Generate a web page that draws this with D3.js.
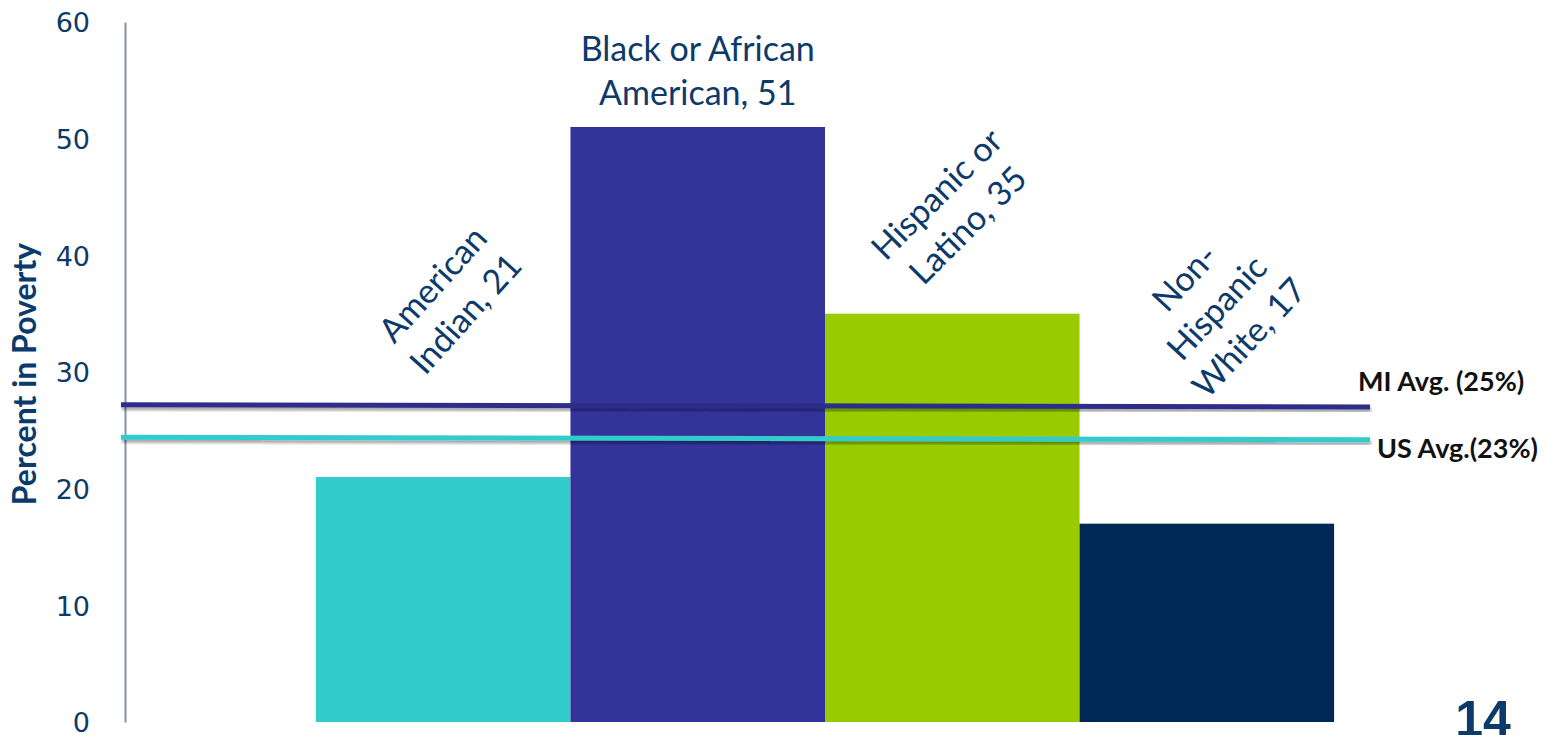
<!DOCTYPE html>
<html><head><meta charset="utf-8">
<script src="https://cdn.jsdelivr.net/npm/d3@7"></script>
<style>
html,body{margin:0;padding:0;background:#fff;}
svg{display:block;}
</style></head>
<body>
<svg id="c" width="1547" height="735"></svg>
<script>
// ---- data ----
const categories = ["American Indian", "Black or African American", "Hispanic or Latino", "Non-Hispanic White"];
const values = [21, 51, 35, 17];
const labelLines = [["American", "Indian, 21"], ["Black or African", "American, 51"], ["Hispanic or", "Latino, 35"], ["Non-", "Hispanic", "White, 17"]];
const barColors = ["#33cccc", "#333399", "#99cc00", "#002855"];
const yTicks = [0, 10, 20, 30, 40, 50, 60];
const avgNames = ["MI Avg. (25%)", "US Avg.(23%)"];
const avgLineStart = [27.2, 24.4];   // line level at the left end, as drawn
const avgLineEnd = [27.0, 24.2];     // line level at the right end, as drawn
const avgColors = ["#2e2e8a", "#33cccc"];
const pageNumber = "14";

// ---- layout ----
const svg = d3.select("#c");
const axisX = 125, x0 = 125, x1 = 1525, yTop = 22, yBottom = 722;
const navy = "#0b3a6b";

const x = d3.scaleBand().domain(categories).range([x0, x1]).paddingInner(0).paddingOuter(0.75);
const y = d3.scaleLinear().domain([0, 60]).range([yBottom, yTop]);

const defs = svg.append("defs");
const f = defs.append("filter").attr("id", "sh").attr("x", "-5%").attr("y", "-200%").attr("width", "110%").attr("height", "500%");
f.append("feGaussianBlur").attr("in", "SourceAlpha").attr("stdDeviation", 1.5).attr("result", "b");
f.append("feOffset").attr("in", "b").attr("dx", 1).attr("dy", 3).attr("result", "o");
f.append("feComponentTransfer").attr("in", "o").attr("result", "o2")
  .append("feFuncA").attr("type", "linear").attr("slope", 0.35);
const m = f.append("feMerge");
m.append("feMergeNode").attr("in", "o2");
m.append("feMergeNode").attr("in", "SourceGraphic");

// bars
svg.append("g").selectAll("rect").data(values).join("rect")
  .attr("x", (d, i) => x(categories[i]))
  .attr("y", d => y(d))
  .attr("width", x.bandwidth())
  .attr("height", d => y(0) - y(d))
  .attr("fill", (d, i) => barColors[i]);

// y axis
const yAxis = d3.axisLeft(y).tickValues(yTicks).tickSize(0).tickPadding(35);
const ga = svg.append("g").attr("transform", `translate(${axisX},0)`).call(yAxis);
ga.select(".domain").attr("stroke", "#8a8fa8").attr("stroke-width", 2);
ga.selectAll("text").attr("fill", navy).attr("font-family", "DejaVu Sans, Verdana, sans-serif")
  .attr("font-size", 27).attr("dy", "0.36em");

// axis title
svg.append("text").attr("transform", `translate(36,${374}) rotate(-90)`)
  .attr("text-anchor", "middle").attr("fill", navy)
  .attr("font-family", "Lato, sans-serif").attr("font-weight", "bold").attr("font-size", 32)
  .text("Percent in Poverty");

// avg lines
const lineEndX = 1370, lineStartX = 121;
svg.append("g").selectAll("line").data(avgNames).join("line")
  .attr("x1", lineStartX).attr("x2", lineEndX)
  .attr("y1", (d, i) => y(avgLineStart[i])).attr("y2", (d, i) => y(avgLineEnd[i]))
  .attr("stroke", (d, i) => avgColors[i]).attr("stroke-width", 5)
  .attr("filter", "url(#sh)");

// avg labels
const avgLabelPos = [[1358, -25], [1377, 9]];
svg.append("g").selectAll("text").data(avgNames).join("text")
  .attr("x", (d, i) => avgLabelPos[i][0])
  .attr("y", (d, i) => y(avgLineEnd[i]) + avgLabelPos[i][1])
  .attr("dy", "0.35em")
  .attr("fill", "#111").attr("font-family", "Lato, sans-serif").attr("font-weight", "bold").attr("font-size", 27)
  .text(d => d);

// data labels
const labelRot = [-48, 0, -45, -47];
const labelOffset = [178, 56, 104, 216]; // vertical distance of label centre above bar top
const labelShift = [6, 0, 0, 10];        // horizontal nudge from bar centre
const lineH = 44;
const lg = svg.append("g").selectAll("g").data(labelLines).join("g")
  .attr("transform", (d, i) => `translate(${x(categories[i]) + x.bandwidth() / 2 + labelShift[i]},${y(values[i]) - labelOffset[i]}) rotate(${labelRot[i]})`);
lg.selectAll("text").data(d => d.map((t, k) => ({ t, k, n: d.length }))).join("text")
  .attr("text-anchor", "middle")
  .attr("y", d => (d.k - (d.n - 1) / 2) * lineH)
  .attr("dy", "0.35em")
  .attr("fill", navy).attr("font-family", "Lato, sans-serif").attr("font-size", 34)
  .text(d => d.t);

// page number
svg.append("text").attr("x", 1483).attr("y", 736).attr("text-anchor", "middle")
  .attr("fill", navy).attr("font-family", "Liberation Sans, Arial, sans-serif").attr("font-weight", "bold").attr("font-size", 50)
  .text(pageNumber);
</script>
</body></html>
